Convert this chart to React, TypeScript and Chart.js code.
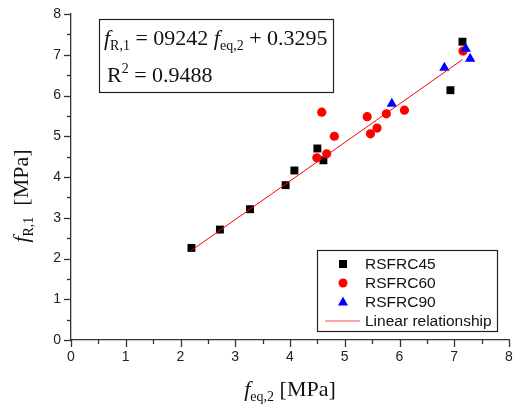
import { useEffect, useRef } from 'react'
import Chart from 'chart.js/auto'

// values
const rsfrc45X = [2.2, 2.72, 3.27, 3.92, 4.08, 4.5, 4.61, 6.93, 7.15]
const rsfrc45Y = [2.26, 2.71, 3.21, 3.8, 4.16, 4.7, 4.41, 6.13, 7.32]
const rsfrc60X = [4.49, 4.58, 4.67, 4.81, 5.41, 5.47, 5.59, 5.76, 6.09, 7.16]
const rsfrc60Y = [4.47, 5.59, 4.57, 5.0, 5.48, 5.06, 5.2, 5.55, 5.64, 7.09]
const rsfrc90X = [5.86, 6.82, 7.21, 7.29]
const rsfrc90Y = [5.8, 6.68, 7.15, 6.9]
const fitX = [2.19, 7.15]
const fitY = [2.19, 6.88]
const seriesNames = ['RSFRC45', 'RSFRC60', 'RSFRC90', 'Linear relationship']

const SERIF = '"Liberation Serif", "Times New Roman", serif'
const SANS = '"Liberation Sans", Arial, sans-serif'

type Seg = { t: string; size: number; italic?: boolean; dy?: number }

function segFont(s: Seg) {
  return `${s.italic ? 'italic ' : ''}${s.size}px ${SERIF}`
}

function richWidth(ctx: CanvasRenderingContext2D, segs: Seg[]) {
  let w = 0
  for (const s of segs) {
    ctx.font = segFont(s)
    w += ctx.measureText(s.t).width
  }
  return w
}

function drawRich(ctx: CanvasRenderingContext2D, segs: Seg[], x: number, y: number) {
  ctx.textBaseline = 'alphabetic'
  ctx.textAlign = 'left'
  let cx = x
  for (const s of segs) {
    ctx.font = segFont(s)
    ctx.fillText(s.t, cx, y + (s.dy || 0))
    cx += ctx.measureText(s.t).width
  }
}

const toPts = (xs: number[], ys: number[]) => xs.map((x, i) => ({ x, y: ys[i] }))

const decorPlugin = {
  id: 'decor',
  afterDraw(chart: any) {
    const ctx: CanvasRenderingContext2D = chart.ctx
    const xs = chart.scales.x
    const ys = chart.scales.y
    const area = chart.chartArea
    ctx.save()
    ctx.strokeStyle = '#333'
    ctx.lineWidth = 1.3
    // major and minor ticks, outward
    for (let v = 0; v <= 8; v += 0.5) {
      const len = Number.isInteger(v) ? 7 : 4
      const px = Math.round(xs.getPixelForValue(v)) + 0.5
      ctx.beginPath()
      ctx.moveTo(px, area.bottom)
      ctx.lineTo(px, area.bottom + len)
      ctx.stroke()
      const py = Math.round(ys.getPixelForValue(v)) + 0.5
      ctx.beginPath()
      ctx.moveTo(area.left, py)
      ctx.lineTo(area.left - len, py)
      ctx.stroke()
    }

    ctx.fillStyle = '#111'
    // x title
    const xt: Seg[] = [
      { t: 'f', size: 22, italic: true },
      { t: 'eq,2', size: 14, dy: 5 },
      { t: ' [MPa]', size: 22 }
    ]
    const xw = richWidth(ctx, xt)
    drawRich(ctx, xt, (area.left + area.right) / 2 - xw / 2, 396)

    // y title
    const yt: Seg[] = [
      { t: 'f', size: 22, italic: true },
      { t: 'R,1', size: 14, dy: 5 },
      { t: '  [MPa]', size: 22 }
    ]
    const yw = richWidth(ctx, yt)
    ctx.save()
    ctx.translate(28, 196)
    ctx.rotate(-Math.PI / 2)
    drawRich(ctx, yt, -yw / 2, 0)
    ctx.restore()

    // equation box
    ctx.strokeStyle = '#222'
    ctx.lineWidth = 1.2
    ctx.fillStyle = '#fff'
    ctx.fillRect(99.5, 19.5, 234, 73)
    ctx.strokeRect(99.5, 19.5, 234, 73)
    ctx.fillStyle = '#111'
    drawRich(ctx, [
      { t: 'f', size: 22, italic: true },
      { t: 'R,1', size: 14, dy: 5 },
      { t: ' = 09242 ', size: 22 },
      { t: 'f', size: 22, italic: true },
      { t: 'eq,2', size: 14, dy: 5 },
      { t: ' + 0.3295', size: 22 }
    ], 104, 45)
    drawRich(ctx, [
      { t: 'R', size: 22 },
      { t: '2', size: 14, dy: -9 },
      { t: ' = 0.9488', size: 22 }
    ], 107, 82)

    // legend
    ctx.fillStyle = '#fff'
    ctx.fillRect(317.5, 250.5, 180, 81)
    ctx.strokeRect(317.5, 250.5, 180, 81)
    const rows = [264, 283, 302, 321]
    const mx = 343
    ctx.fillStyle = '#000'
    ctx.fillRect(mx - 4, rows[0] - 4, 8, 8)
    ctx.fillStyle = '#ff0000'
    ctx.beginPath()
    ctx.arc(mx, rows[1], 4.5, 0, Math.PI * 2)
    ctx.fill()
    ctx.fillStyle = '#0000ff'
    ctx.beginPath()
    ctx.moveTo(mx, rows[2] - 5.5)
    ctx.lineTo(mx + 5, rows[2] + 3.5)
    ctx.lineTo(mx - 5, rows[2] + 3.5)
    ctx.closePath()
    ctx.fill()
    ctx.strokeStyle = '#ff4d4d'
    ctx.lineWidth = 1.2
    ctx.beginPath()
    ctx.moveTo(325, rows[3])
    ctx.lineTo(360, rows[3])
    ctx.stroke()
    ctx.fillStyle = '#111'
    ctx.font = `15.5px ${SANS}`
    ctx.textBaseline = 'middle'
    ctx.textAlign = 'left'
    seriesNames.forEach((n, i) => ctx.fillText(n, 365, rows[i] + 1))
    ctx.restore()
  }
}

export default function App() {
  const canvasRef = useRef<HTMLCanvasElement>(null)

  useEffect(() => {
    if (!canvasRef.current) return
    const axisCommon = {
      type: 'linear' as const,
      min: 0,
      max: 8,
      grid: { display: false, drawTicks: false },
      border: { display: true, color: '#333', width: 1.3 }
    }
    const chart = new Chart(canvasRef.current, {
      type: 'scatter',
      data: {
        datasets: [
          {
            type: 'line',
            label: seriesNames[3],
            data: toPts(fitX, fitY),
            borderColor: '#ff0000',
            borderWidth: 1,
            pointRadius: 0,
            showLine: true,
            order: 0
          },
          {
            label: seriesNames[2],
            data: toPts(rsfrc90X, rsfrc90Y),
            pointStyle: 'triangle',
            pointRadius: 6,
            backgroundColor: '#0000ff',
            borderColor: '#0000ff',
            borderWidth: 0,
            order: 1
          },
          {
            label: seriesNames[1],
            data: toPts(rsfrc60X, rsfrc60Y),
            pointStyle: 'circle',
            pointRadius: 4.6,
            backgroundColor: '#ff0000',
            borderColor: '#ff0000',
            borderWidth: 0,
            order: 2
          },
          {
            label: seriesNames[0],
            data: toPts(rsfrc45X, rsfrc45Y),
            pointStyle: 'rect',
            pointRadius: 5.6,
            backgroundColor: '#000',
            borderColor: '#000',
            borderWidth: 0,
            order: 3
          }
        ]
      },
      options: {
        animation: false,
        responsive: true,
        maintainAspectRatio: false,
        layout: { padding: { top: 14, right: 6, left: 0, bottom: 0 } },
        plugins: { legend: { display: false }, tooltip: { enabled: false } },
        scales: {
          x: {
            ...axisCommon,
            ticks: { stepSize: 1, padding: 9, color: '#222', font: { family: SANS, size: 14 } },
            afterFit: (s: any) => {
              s.height = 72
              s.paddingLeft = 0
              s.paddingRight = 0
            }
          },
          y: {
            ...axisCommon,
            ticks: { stepSize: 1, padding: 10, color: '#222', font: { family: SANS, size: 14 } },
            afterFit: (s: any) => {
              s.width = 71
              s.paddingTop = 0
              s.paddingBottom = 0
            }
          }
        }
      },
      plugins: [decorPlugin]
    })
    return () => chart.destroy()
  }, [])

  return (
    <div style={{ position: 'absolute', left: 0, top: 0, width: 515, height: 412, background: '#fff' }}>
      <canvas ref={canvasRef}></canvas>
    </div>
  )
}
